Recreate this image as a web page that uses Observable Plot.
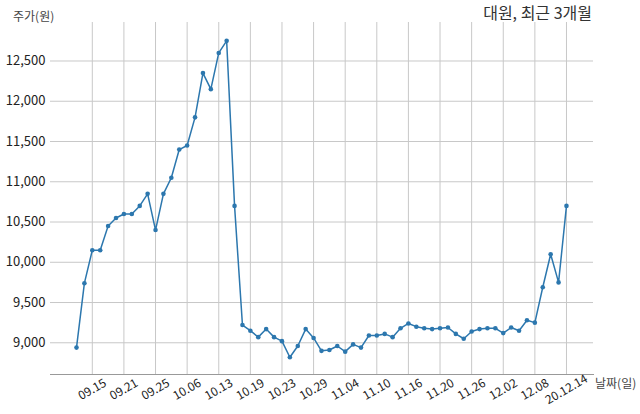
<!DOCTYPE html>
<html><head><meta charset="utf-8">
<script src="https://cdn.jsdelivr.net/npm/d3@7"></script>
<script src="https://cdn.jsdelivr.net/npm/@observablehq/plot@0.6"></script>
<style>
body{margin:0;background:#fff;font-family:"Noto Sans CJK KR",sans-serif;}
#wrap{position:relative;width:640px;height:414px;}
#wrap svg{position:absolute;left:0;top:0;}
.lbl{position:absolute;white-space:nowrap;color:#444;line-height:1;}
</style></head><body>
<div id="wrap">
<div class="lbl" style="right:48px;top:4px;font-size:16px;color:#333">대원, 최근 3개월</div>
<div class="lbl" style="left:13px;top:10px;font-size:12px">주가(원)</div>
<div class="lbl" style="left:595px;top:377px;font-size:12px">날짜(일)</div>
</div>
<script>
const dates = ["09.11","09.14","09.15","09.16","09.17","09.18","09.21","09.22","09.23","09.24",
  "09.25","09.28","09.29","10.05","10.06","10.07","10.08","10.12","10.13","10.14",
  "10.15","10.16","10.19","10.20","10.21","10.22","10.23","10.26","10.27","10.28",
  "10.29","10.30","11.02","11.03","11.04","11.05","11.06","11.09","11.10","11.11",
  "11.12","11.13","11.16","11.17","11.18","11.19","11.20","11.23","11.24","11.25",
  "11.26","11.27","11.30","12.01","12.02","12.03","12.04","12.07","12.08","12.09",
  "12.10","12.11","12.14"];
const prices = [8940,9740,10150,10150,10450,10550,10600,10600,10700,10850,
  10400,10850,11050,11400,11450,11800,12350,12150,12600,12750,
  10700,9220,9150,9070,9170,9070,9020,8820,8960,9170,
  9060,8900,8910,8960,8890,8980,8940,9090,9090,9110,
  9070,9180,9240,9200,9180,9170,9180,9190,9110,9050,
  9140,9170,9180,9180,9120,9190,9150,9280,9250,9690,
  10100,9750,10700];
const tickIndex = [2,6,10,14,18,22,26,30,34,38,42,46,50,54,58,62];
const tickLabels = ["09.15","09.21","09.25","10.06","10.13","10.19","10.23","10.29","11.04","11.10","11.16","11.20","11.26","12.02","12.08","20.12.14"];
const yTicks = [9000,9500,10000,10500,11000,11500,12000,12500];

const rows = prices.map((p,i)=>({i, date:dates[i], price:p}));
const ticks = tickIndex.map((t,k)=>({i:t, label:tickLabels[k]}));
const color = "#2c77ae";

const chart = Plot.plot({
  width:640, height:414,
  marginLeft:50, marginRight:47, marginTop:22, marginBottom:40,
  style:{fontFamily:'"Noto Sans CJK KR", sans-serif', fontSize:"13px", color:"#222", background:"transparent"},
  x:{domain:[-3.29,65.42], axis:null},
  y:{domain:[8606,12978]},
  marks:[
    Plot.gridX(tickIndex,{stroke:"#c8c8c8", strokeOpacity:1}),
    Plot.gridY(yTicks,{stroke:"#c8c8c8", strokeOpacity:1}),
    Plot.axisY(yTicks,{tickSize:0, tickPadding:5, tickFormat:d3.format(","), label:null, fontSize:13}),
    Plot.frame({anchor:"bottom", stroke:"#999"}),
    Plot.line(rows,{x:"i", y:"price", stroke:color, strokeWidth:1.5}),
    Plot.dot(rows,{x:"i", y:"price", r:2.3, fill:color}),
    Plot.text(ticks,{x:"i", text:"label", frameAnchor:"bottom", dy:15, rotate:-30, fontSize:12, textAnchor:"middle", lineAnchor:"middle", fill:"#222"})
  ]
});
document.getElementById("wrap").prepend(chart);
</script>
</body></html>
